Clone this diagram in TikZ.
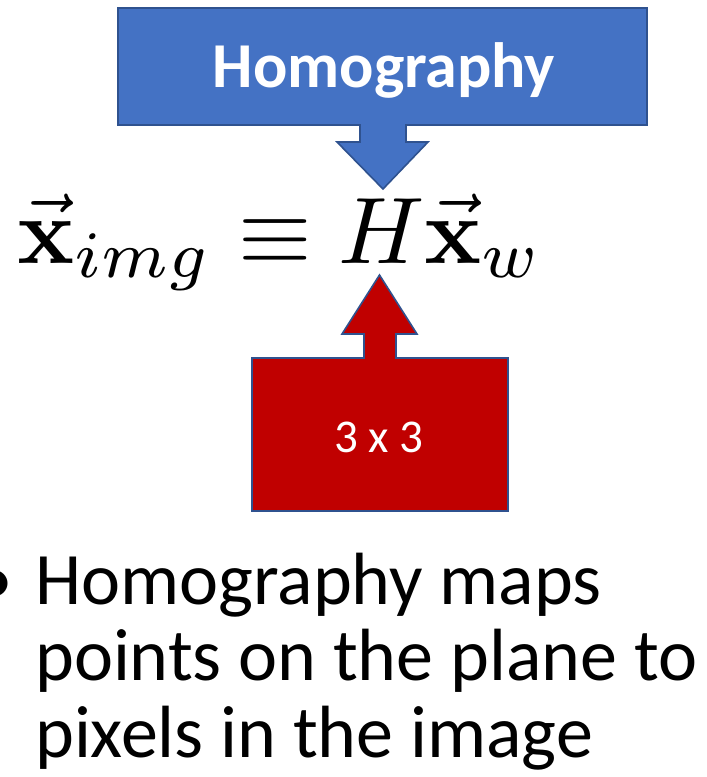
\documentclass[tikz,border=0pt]{standalone}
\usepackage{amsmath}
\usepackage{graphicx}
\usepackage[no-math]{fontspec}
\setmainfont{Carlito}
\definecolor{offblue}{HTML}{4472C4}
\definecolor{offedge}{HTML}{2F528F}
\definecolor{offred}{HTML}{C00000}
\tikzset{
  callout/.style={line width=1.6pt, draw=offedge, line join=miter},
  bodytext/.style={inner sep=0pt, anchor=base west, font=\fontsize{74}{80}\selectfont},
}
\begin{document}
\begin{tikzpicture}[x=1pt,y=-1pt]
\useasboundingbox (0,0) rectangle (707,777);
% blue callout
\draw[callout, fill=offblue] (118,8) -- (647,8) -- (647,125) -- (406,125) -- (406,142) -- (428,142)
  -- (383,189) -- (337,142) -- (360,142) -- (360,125) -- (118,125) -- cycle;
\node[inner sep=0pt, anchor=base, text=white, font=\fontsize{64}{70}\selectfont\bfseries] (homog) at (384,87) {Homography};
% red callout
\draw[callout, fill=offred] (252,511) -- (508,511) -- (508,358) -- (396,358) -- (396,334) -- (417,334)
  -- (379.5,275) -- (342,334) -- (364,334) -- (364,358) -- (252,358) -- cycle;
\node[inner sep=0pt, anchor=base, text=white, font=\fontsize{47}{52}\selectfont] (size) at (379,452) {3 x 3};
% equation
\node[inner sep=0pt, anchor=base west] (eq) at (17,263)
  {\scalebox{9.45}{$\vec{\mathbf{x}}_{img} \equiv H\vec{\mathbf{x}}_w$}};
% bullet text
\node[bodytext, anchor=base east] (bul) at (14,604) {•};
\node[bodytext] (l1) at (35,604) {Homography maps};
\node[bodytext] (l2) at (35,680) {points on the plane to};
\node[bodytext] (l3) at (35,757) {pixels in the image};
\end{tikzpicture}
\end{document}
